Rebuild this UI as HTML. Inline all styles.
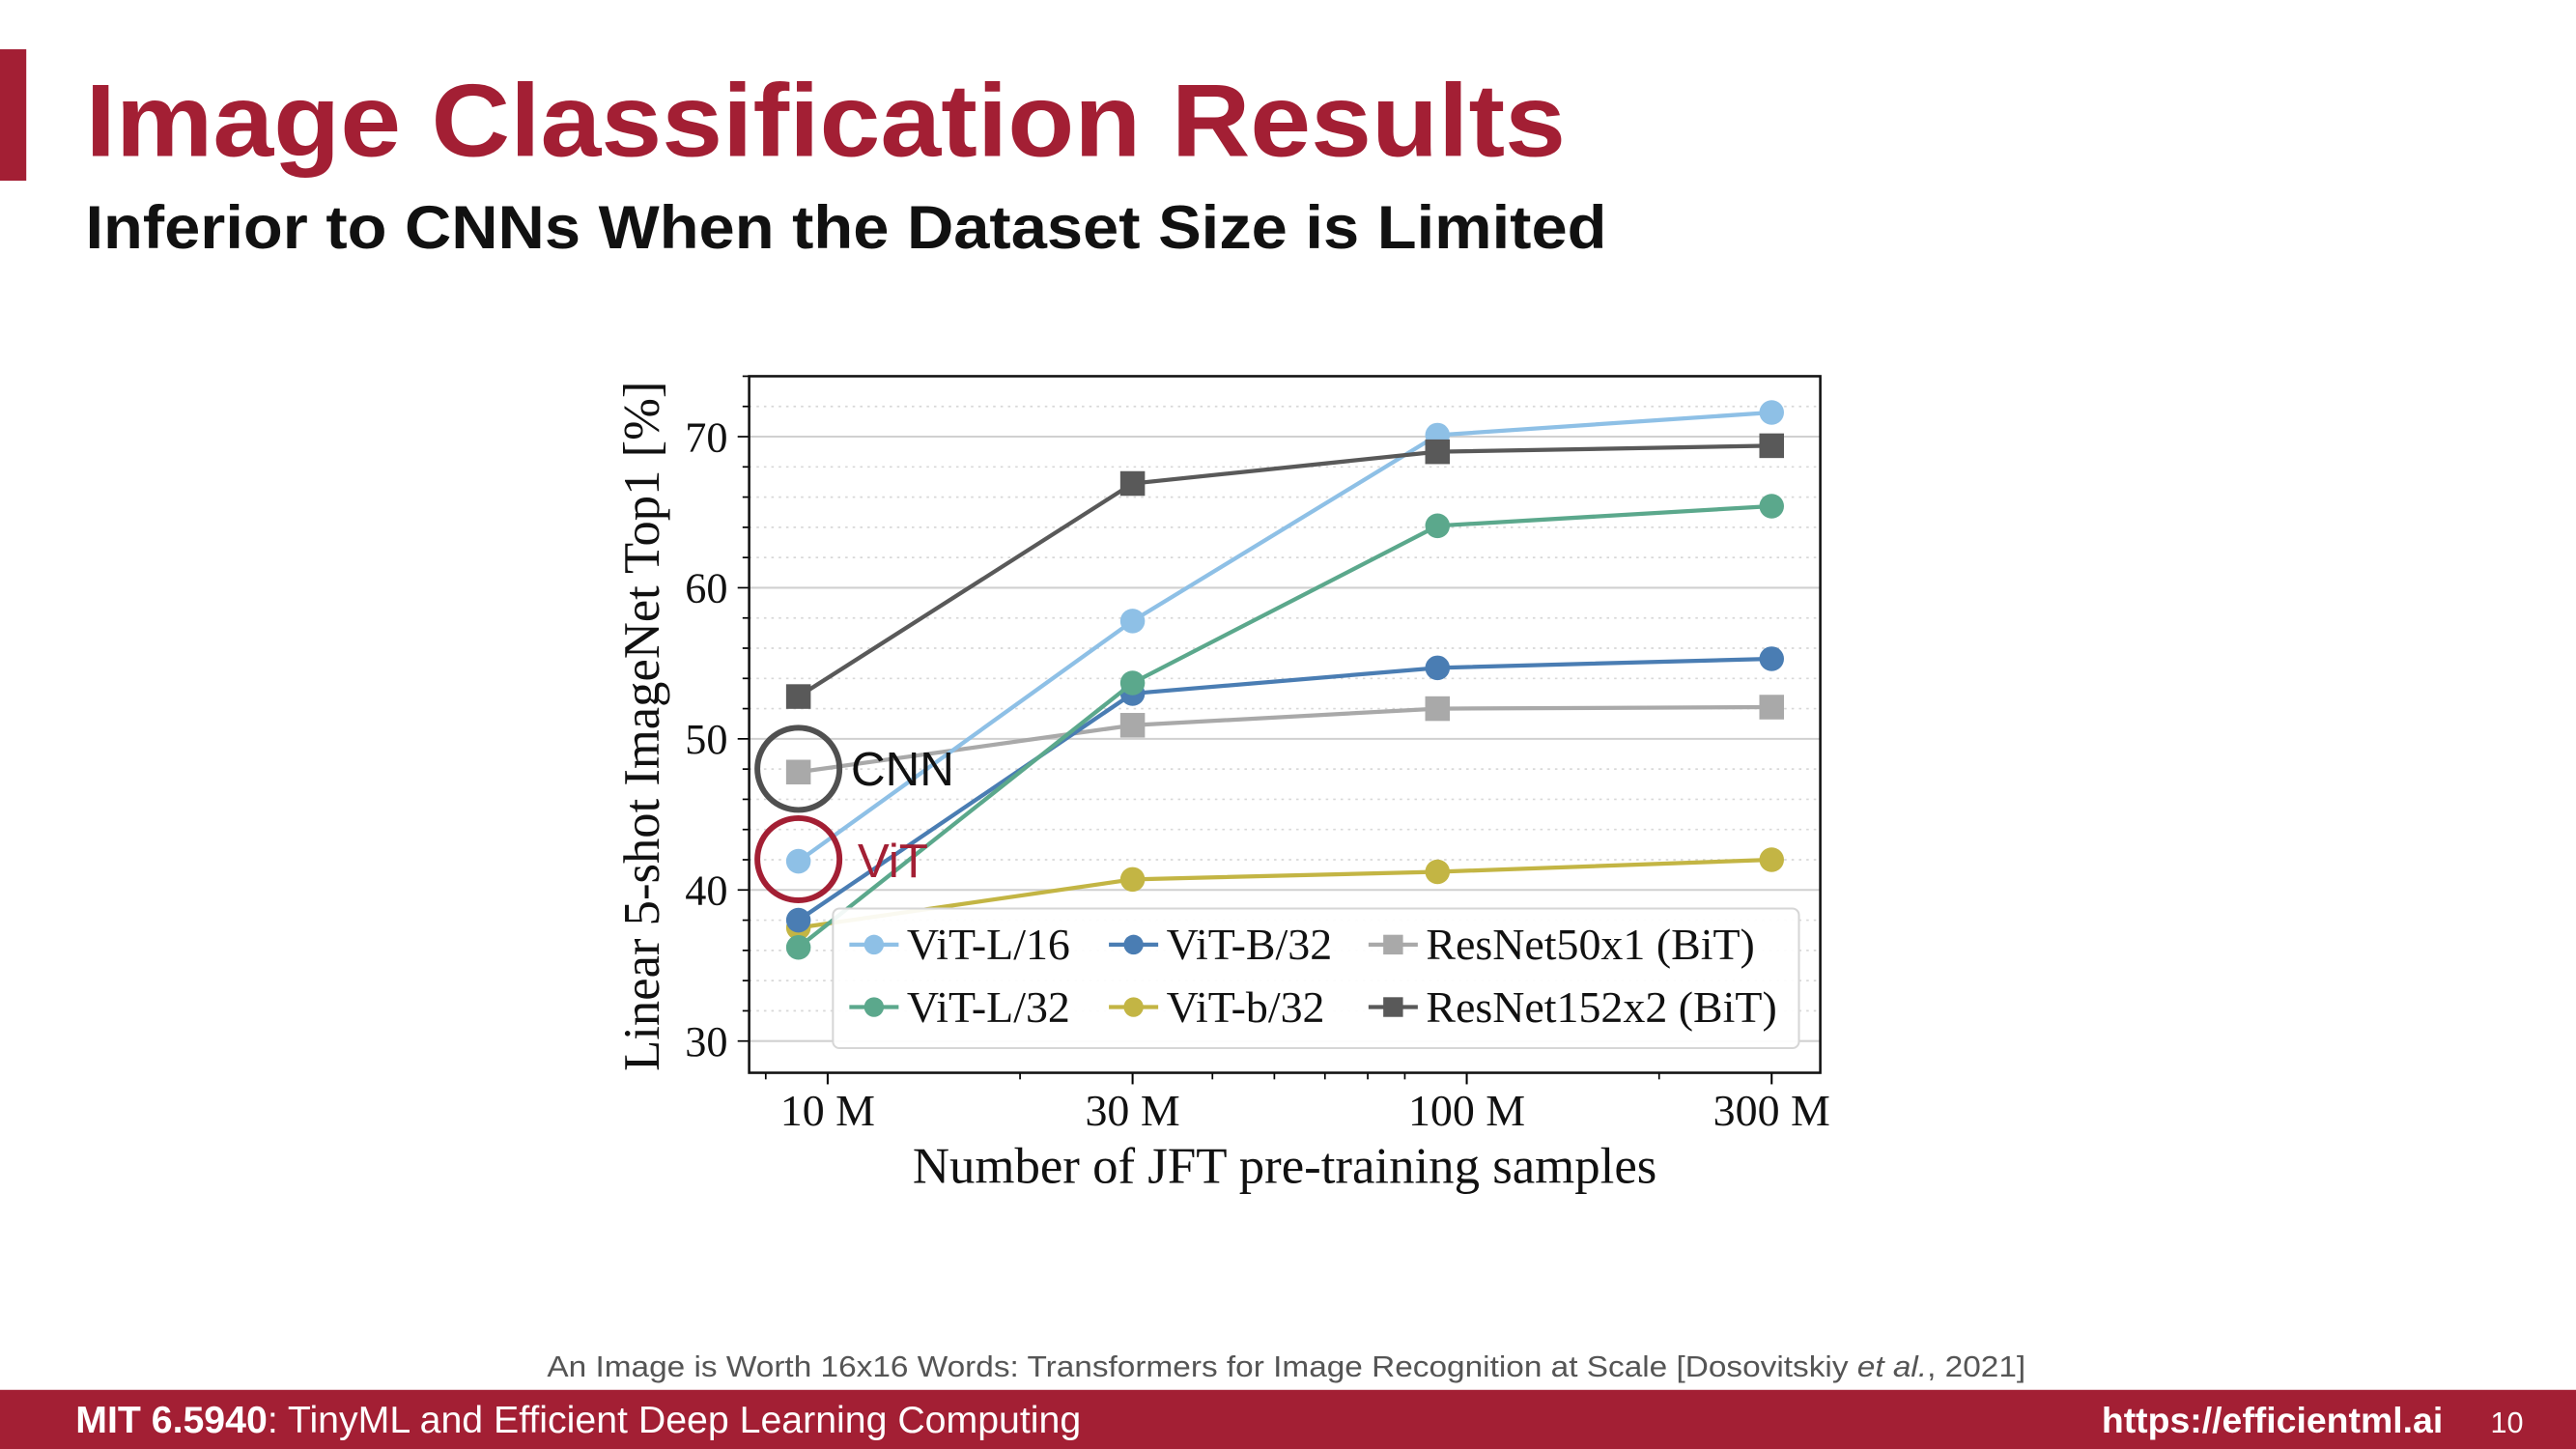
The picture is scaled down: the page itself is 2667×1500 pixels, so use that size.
<!DOCTYPE html>
<html><head><meta charset="utf-8"><style>
html,body{margin:0;padding:0;background:#fff;}
svg{display:block;}
.serif{font-family:"Liberation Serif",serif;}
.sans{font-family:"Liberation Sans",sans-serif;}
</style></head><body>
<svg width="2667" height="1500" viewBox="0 0 1568 882" preserveAspectRatio="none">
<rect x="0" y="0" width="1568" height="882" fill="#fff"/>
<rect x="0" y="30" width="16" height="80" fill="#a31f34"/>
<text x="52" y="95" class="sans" font-weight="bold" font-size="63" fill="#a31f34" textLength="901" lengthAdjust="spacingAndGlyphs">Image Classification Results</text>
<text x="52" y="151" class="sans" font-weight="bold" font-size="37" fill="#111" textLength="926" lengthAdjust="spacingAndGlyphs">Inferior to CNNs When the Dataset Size is Limited</text>
<g id="chart"></g>
<text x="333" y="838" class="sans" font-size="18" fill="#555" textLength="900" lengthAdjust="spacingAndGlyphs">An Image is Worth 16x16 Words: Transformers for Image Recognition at Scale [Dosovitskiy <tspan font-style="italic">et al.</tspan>, 2021]</text>
<rect x="0" y="846" width="1568" height="36" fill="#a31f34"/>
<text x="46" y="872" class="sans" font-size="23" fill="#fff" textLength="612" lengthAdjust="spacingAndGlyphs"><tspan font-weight="bold">MIT 6.5940</tspan>: TinyML and Efficient Deep Learning Computing</text>
<text x="1487" y="872" text-anchor="end" class="sans" font-weight="bold" font-size="22" fill="#fff">https://efficientml.ai</text>
<text x="1536" y="872" text-anchor="end" class="sans" font-size="18" fill="#fff">10</text>
</svg>
<script>
const xSamples = [9, 30, 90, 300];
const xTickValues = [10, 30, 100, 300];
const xTickLabels = ["10 M", "30 M", "100 M", "300 M"];
const yTicks = [30, 40, 50, 60, 70];
const seriesNames = ["ViT-L/16", "ViT-L/32", "ViT-B/32", "ViT-b/32", "ResNet50x1 (BiT)", "ResNet152x2 (BiT)"];
const vitL16 = [41.9, 57.8, 70.1, 71.6];
const vitL32 = [36.2, 53.7, 64.1, 65.4];
const vitB32 = [38.0, 53.0, 54.7, 55.3];
const vitb32 = [37.5, 40.7, 41.2, 42.0];
const resnet50 = [47.8, 50.9, 52.0, 52.1];
const resnet152 = [52.8, 66.9, 69.0, 69.4];

const NS = "http://www.w3.org/2000/svg";
const g = document.getElementById("chart");
const L = 456, R = 1108, T = 229, B = 653;
const yMin = 27.9, yMax = 74.0;
function ys(v){ return B - (v - yMin) / (yMax - yMin) * (B - T); }
const xPx0 = 486, pxPerDec = 389;
function xs(v){ return xPx0 + pxPerDec * Math.log10(v / 9); }
function mk(tag, attrs, parent){
  const e = document.createElementNS(NS, tag);
  for (const k in attrs) e.setAttribute(k, attrs[k]);
  (parent || g).appendChild(e);
  return e;
}
for (let v = 30; v <= 74; v += 2) {
  const major = v % 10 === 0;
  const ln = mk("line", {x1: L, x2: R, y1: ys(v), y2: ys(v), stroke: major ? "#d0d0d0" : "#d8d8d8", "stroke-width": major ? 1.2 : 1, "stroke-dasharray": major ? "none" : "1.5 3"});
  
  
  const tk = mk("line", {x1: L - (major ? 7 : 4), x2: L, y1: ys(v), y2: ys(v), stroke: "#000", "stroke-width": 1});
  
  
}
yTicks.forEach(v => {
  const t = mk("text", {x: 443, y: ys(v) + 9, "text-anchor": "end", "font-size": 26, "class": "serif", fill: "#111"});
  t.textContent = v;
  
  
});
[8, 20, 40, 50, 60, 70, 80, 200].forEach(m => {
  const x = xs(m);
  if (x < L || x > R) return;
  const tk = mk("line", {x1: x, x2: x, y1: B, y2: B + 4, stroke: "#000", "stroke-width": 1});
  
  
});
xTickValues.forEach((s, i) => {
  const x = xs(s);
  const tk = mk("line", {x1: x, x2: x, y1: B, y2: B + 7, stroke: "#000", "stroke-width": 1.2});
  
  
  const t = mk("text", {x: x, y: B + 32, "text-anchor": "middle", "font-size": 27, "class": "serif", fill: "#111"});
  t.textContent = xTickLabels[i];
  
  
});
const fr = mk("rect", {x: L, y: T, width: R - L, height: B - T, fill: "none", stroke: "#111", "stroke-width": 1.5});


const yt = mk("text", {x: 0, y: 0, transform: "translate(401,442) rotate(-90)", "text-anchor": "middle", "font-size": 31, "class": "serif", fill: "#111", textLength: 420, lengthAdjust: "spacingAndGlyphs"});
yt.textContent = "Linear 5-shot ImageNet Top1 [%]";


const xt = mk("text", {x: 782, y: 720, "text-anchor": "middle", "font-size": 31, "class": "serif", fill: "#111", textLength: 453, lengthAdjust: "spacingAndGlyphs"});
xt.textContent = "Number of JFT pre-training samples";



const series = [
  {vals: vitL16, color: "#8ec0e6", sq: false, key: "vit-l16"},
  {vals: vitL32, color: "#5ba88c", sq: false, key: "vit-l32"},
  {vals: vitB32, color: "#4a7db3", sq: false, key: "vit-b32"},
  {vals: vitb32, color: "#c3b544", sq: false, key: "vit-small-b32"},
  {vals: resnet50, color: "#a9a9a9", sq: true, key: "resnet50x1"},
  {vals: resnet152, color: "#595959", sq: true, key: "resnet152x2"}
];
function marker(x, y, s, r, parent){
  if (s.sq) return mk("rect", {x: x - r, y: y - r, width: 2 * r, height: 2 * r, fill: s.color}, parent);
  return mk("circle", {cx: x, cy: y, r: r, fill: s.color}, parent);
}
const drawOrder = [4, 3, 2, 1, 0, 5];
drawOrder.forEach(idx => {
  const s = series[idx];
  const pts = s.vals.map((v, i) => xs(xSamples[i]) + "," + ys(v)).join(" ");
  const pl = mk("polyline", {points: pts, fill: "none", stroke: s.color, "stroke-width": 2.5});
  
  
  s.vals.forEach((v, i) => {
    const m = marker(xs(xSamples[i]), ys(v), s, 7.5);
    
    
  });
});
const c1 = mk("circle", {cx: 486, cy: 468, r: 25, fill: "none", stroke: "#505050", "stroke-width": 3.5});


const c2 = mk("circle", {cx: 486, cy: 523, r: 25, fill: "none", stroke: "#a31f34", "stroke-width": 3.5});


const a1 = mk("text", {x: 518, y: 478, "font-size": 29, "class": "sans", fill: "#111"});
a1.textContent = "CNN";


const a2 = mk("text", {x: 522, y: 534, "font-size": 29, "class": "sans", fill: "#a31f34"});
a2.textContent = "ViT";


const lg = mk("g", {});


const lb = mk("rect", {x: 507, y: 553, width: 588, height: 85, rx: 4, fill: "#fff", "fill-opacity": 0.92, stroke: "#d6d6d6", "stroke-width": 1.2}, lg);


const legendPos = [[517, 575], [517, 613], [675, 575], [675, 613], [833, 575], [833, 613]];
legendPos.forEach((p, i) => {
  const s = series[i];
  const eg = mk("g", {}, lg);
  
  
  mk("line", {x1: p[0], x2: p[0] + 30, y1: p[1], y2: p[1], stroke: s.color, "stroke-width": 2.5}, eg);
  marker(p[0] + 15, p[1], s, 6, eg);
  const t = mk("text", {x: p[0] + 35, y: p[1] + 9, "font-size": 27, "class": "serif", fill: "#111"}, eg);
  t.textContent = seriesNames[i];
});
</script>
</body></html>
